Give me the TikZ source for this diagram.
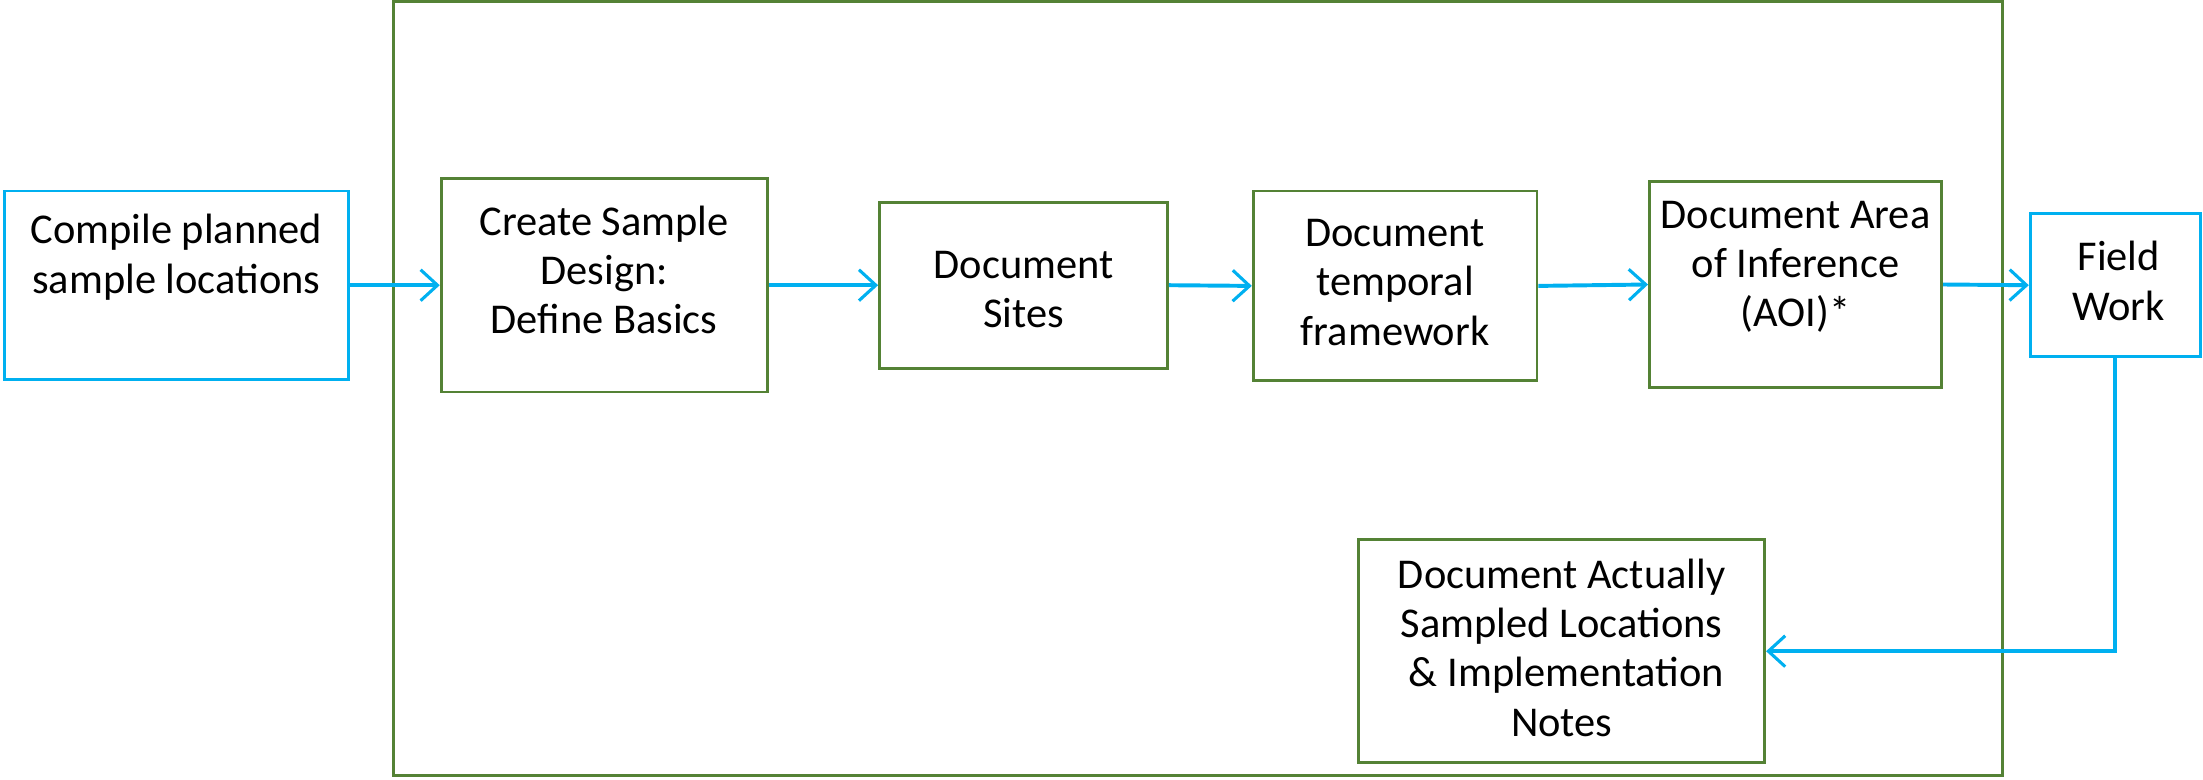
\documentclass[tikz,border=0pt]{standalone}
\usepackage{fontspec}
\setmainfont{Carlito}
\usetikzlibrary{arrows.meta}
\definecolor{gline}{HTML}{548235}
\definecolor{bline}{HTML}{00B0F0}
\tikzset{
  gbox/.style={draw=gline, line width=1pt, inner sep=0pt},
  bbox/.style={draw=bline, line width=1pt, inner sep=0pt},
  txt/.style={align=center, inner sep=0pt, font=\fontsize{15.1pt}{17.5pt}\selectfont},
  conn/.style={draw=bline, line width=1.4pt, -{Straight Barb[length=6pt,width=11pt,line width=1.1pt]}},
}
\begin{document}
\begin{tikzpicture}[x=0.5pt,y=-0.5pt]
\useasboundingbox (0,0) rectangle (1568,554.5);
\node[gbox, minimum width=572.5pt, minimum height=275.5pt] (outer) at (852.5,276.5) {};
\node[bbox, minimum width=122.5pt, minimum height=67pt] (compile) at (125.5,203) {};
\node[gbox, minimum width=116pt, minimum height=76pt] (create) at (430,203) {};
\node[gbox, minimum width=102.5pt, minimum height=59pt] (sites) at (728.5,203) {};
\node[gbox, minimum width=101pt, minimum height=67.5pt] (temporal) at (993,203.5) {};
\node[gbox, minimum width=104pt, minimum height=73.5pt] (aoi) at (1278,202.5) {};
\node[bbox, minimum width=60.5pt, minimum height=51pt] (field) at (1505.5,203) {};
\node[gbox, minimum width=144.5pt, minimum height=79.5pt] (actual) at (1111.5,463.5) {};
\node[txt] (tcompile) at (125.5,183) {Compile planned\\sample locations};
\node[txt] (tcreate) at (430,192) {Create Sample\\Design:\\Define Basics};
\node[txt] (tsites) at (728.5,206) {Document\\Sites};
\node[txt] (ttemporal) at (993,201) {Document\\temporal\\framework};
\node[txt] (taoi) at (1278,190) {Document Area\\of Inference\\(AOI)*};
\node[txt] (tfield) at (1508,200) {Field\\Work};
\node[txt] (tactual) at (1111.5,461) {Document Actually\\Sampled Locations\\\ \& Implementation\\Notes};
\draw[conn] (compile.east) -- (create.west);
\draw[conn] (create.east) -- (sites.west);
\draw[conn] (sites.east) -- (temporal.west);
\draw[conn] (temporal.east) -- (aoi.west);
\draw[conn] (aoi.east) -- (field.west);
\draw[conn] (field.south) |- (actual.east);
\end{tikzpicture}
\end{document}
